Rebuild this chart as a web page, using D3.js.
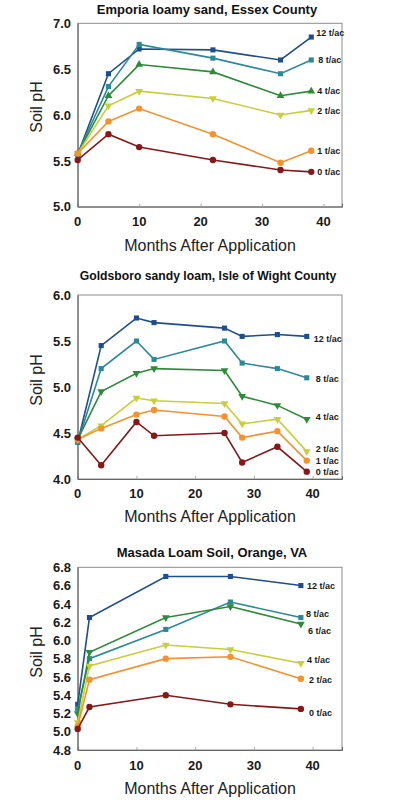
<!DOCTYPE html>
<html>
<head>
<meta charset="utf-8">
<script src="https://cdn.jsdelivr.net/npm/d3@7"></script>
<style>
  html, body { margin: 0; padding: 0; background: #fff; }
  svg { display: block; font-family: "Liberation Sans", Arial, sans-serif; }
</style>
</head>
<body>
<svg id="chart" width="397" height="800"></svg>
<script>
// ---------- DATA ----------
const seriesColors = ["#1f4e8c", "#2b8a99", "#2e8b3a", "#c8cf3a", "#f4922f", "#861818"];

// Panel 1: Emporia loamy sand, Essex County
const emporiaTitle = "Emporia loamy sand, Essex County";
const emporiaMonths = [0, 5, 10, 22, 33, 38];
const emporiaRates = ["12 t/ac", "8 t/ac", "4 t/ac", "2 t/ac", "1 t/ac", "0 t/ac"];
const emporiaMarkers = ["square", "square", "triUp", "triDown", "circle", "circle"];
const emporiaPH = [
  [5.57, 6.45, 6.72, 6.71, 6.60, 6.85],
  [5.58, 6.31, 6.77, 6.62, 6.45, 6.60],
  [5.58, 6.21, 6.55, 6.47, 6.21, 6.26],
  [5.58, 6.10, 6.26, 6.18, 6.00, 6.05],
  [5.58, 5.93, 6.07, 5.79, 5.48, 5.61],
  [5.51, 5.79, 5.65, 5.51, 5.40, 5.38]
];
const emporiaYTicks = [5.0, 5.5, 6.0, 6.5, 7.0];
const emporiaXTicks = [0, 10, 20, 30, 40];

// Panel 2: Goldsboro sandy loam, Isle of Wight County
const goldsboroTitle = "Goldsboro sandy loam, Isle of Wight County";
const goldsboroMonths = [0, 4, 10, 13, 25, 28, 34, 39];
const goldsboroRates = ["12 t/ac", "8 t/ac", "4 t/ac", "2 t/ac", "1 t/ac", "0 t/ac"];
const goldsboroMarkers = ["square", "square", "triDown", "triDown", "circle", "circle"];
const goldsboroPH = [
  [4.40, 5.45, 5.75, 5.70, 5.64, 5.55, 5.57, 5.55],
  [4.40, 5.20, 5.50, 5.30, 5.50, 5.26, 5.20, 5.10],
  [4.43, 4.95, 5.15, 5.20, 5.18, 4.90, 4.80, 4.65],
  [4.43, 4.58, 4.88, 4.85, 4.82, 4.60, 4.65, 4.30],
  [4.43, 4.55, 4.70, 4.75, 4.68, 4.45, 4.52, 4.20],
  [4.45, 4.15, 4.62, 4.47, 4.50, 4.18, 4.35, 4.08]
];
const goldsboroYTicks = [4.0, 4.5, 5.0, 5.5, 6.0];
const goldsboroXTicks = [0, 10, 20, 30, 40];

// Panel 3: Masada Loam Soil, Orange, VA
const masadaTitle = "Masada Loam Soil, Orange, VA";
const masadaMonths = [0, 2, 15, 26, 38];
const masadaRates = ["12 t/ac", "8 t/ac", "6 t/ac", "4 t/ac", "2 t/ac", "0 t/ac"];
const masadaMarkers = ["square", "square", "triDown", "triDown", "circle", "circle"];
const masadaPH = [
  [5.30, 6.25, 6.70, 6.70, 6.60],
  [5.25, 5.80, 6.12, 6.42, 6.25],
  [5.20, 5.87, 6.25, 6.37, 6.18],
  [5.10, 5.72, 5.95, 5.90, 5.75],
  [5.06, 5.57, 5.80, 5.82, 5.58],
  [5.03, 5.27, 5.40, 5.30, 5.25]
];
const masadaYTicks = [4.8, 5.0, 5.2, 5.4, 5.6, 5.8, 6.0, 6.2, 6.4, 6.6, 6.8];
const masadaXTicks = [0, 10, 20, 30, 40];

const xLabelText = "Months After Application";
const yLabelText = "Soil pH";

// ---------- LAYOUT ----------
const panels = [
  { title: emporiaTitle, months: emporiaMonths, rates: emporiaRates, markers: emporiaMarkers, values: emporiaPH,
    yTicks: emporiaYTicks, xTicks: emporiaXTicks, xMax: 43, yDomain: [5.0, 7.0],
    top: 23.3, bottom: 206.7, titleY: 14, xTickY: 226, xLabelY: 251, yLabelY: 107, titleX: 207, titleSize: 13,
    labelDx: [5, 7, 6, 6, 6, 6], labelDy: [-4, 0, 0, 0, 0, 0] },
  { title: goldsboroTitle, months: goldsboroMonths, rates: goldsboroRates, markers: goldsboroMarkers, values: goldsboroPH,
    yTicks: goldsboroYTicks, xTicks: goldsboroXTicks, xMax: 45, yDomain: [4.0, 6.0],
    top: 295, bottom: 479, titleY: 279.5, xTickY: 498, xLabelY: 522, yLabelY: 380, titleX: 208, titleSize: 12.2,
    labelDx: [7, 9, 9, 9, 9, 9], labelDy: [2, 1.5, -2, -2.5, 0, 0] },
  { title: masadaTitle, months: masadaMonths, rates: masadaRates, markers: masadaMarkers, values: masadaPH,
    yTicks: masadaYTicks, xTicks: masadaXTicks, xMax: 45, yDomain: [4.8, 6.8],
    top: 567.3, bottom: 750, titleY: 557, xTickY: 770, xLabelY: 794, yLabelY: 652, titleX: 212, titleSize: 13,
    labelDx: [6, 5, 7, 6, 8, 8], labelDy: [0, -4, 7, -3, 1.5, 4] }
];

const plotLeft = 77.7;
const plotRight = 342;

const svg = d3.select("#chart");

function markerPath(type) {
  const sym = d3.symbol();
  if (type === "square") return sym.type(d3.symbolSquare).size(26)();
  if (type === "circle") return sym.type(d3.symbolCircle).size(32)();
  return sym.type(d3.symbolTriangle).size(26)();
}

panels.forEach(p => {
  const g = svg.append("g");
  const x = d3.scaleLinear().domain([0, p.xMax]).range([plotLeft, plotRight]);
  const y = d3.scaleLinear().domain(p.yDomain).range([p.bottom, p.top]);

  // plot frame
  g.append("rect")
    .attr("x", plotLeft).attr("y", p.top)
    .attr("width", plotRight - plotLeft).attr("height", p.bottom - p.top)
    .attr("fill", "none").attr("stroke", "#8c8c8c").attr("stroke-width", 1);

  // x axis (ticks inside, small)
  const xAxis = d3.axisBottom(x).tickValues(p.xTicks).tickSize(-3).tickFormat("");
  const xa = g.append("g").attr("transform", `translate(0,${p.bottom})`).call(xAxis);
  xa.select(".domain").attr("stroke", "#666");
  xa.selectAll(".tick line").attr("stroke", "#aaa");

  const ya = g.append("g").attr("transform", `translate(${plotLeft},0)`)
    .call(d3.axisLeft(y).tickValues(p.yTicks).tickSize(0).tickFormat(""));
  ya.select(".domain").attr("stroke", "#666");

  // tick labels
  g.selectAll(".ytl").data(p.yTicks).enter().append("text")
    .attr("x", 71).attr("y", d => y(d)).attr("dy", "0.36em")
    .attr("text-anchor", "end").attr("font-size", 13).attr("font-weight", "bold").attr("fill", "#1a1a1a")
    .text(d => d3.format(".1f")(d));
  g.selectAll(".xtl").data(p.xTicks).enter().append("text")
    .attr("x", d => x(d)).attr("y", p.xTickY)
    .attr("text-anchor", "middle").attr("font-size", 13).attr("font-weight", "bold").attr("fill", "#1a1a1a")
    .text(d => d);

  // title
  g.append("text").attr("x", p.titleX).attr("y", p.titleY)
    .attr("text-anchor", "middle").attr("font-size", p.titleSize).attr("font-weight", "bold").attr("fill", "#111")
    .text(p.title);

  // axis titles
  g.append("text").attr("x", 210).attr("y", p.xLabelY)
    .attr("text-anchor", "middle").attr("font-size", 16).attr("fill", "#222")
    .text(xLabelText);
  g.append("text").attr("transform", `translate(41.5,${p.yLabelY}) rotate(-90)`)
    .attr("text-anchor", "middle").attr("font-size", 16).attr("fill", "#222")
    .text(yLabelText);

  // series
  const line = d3.line().x((d, i) => x(p.months[i])).y(d => y(d));
  p.values.forEach((vals, si) => {
    const color = seriesColors[si];
    const sg = g.append("g");
    sg.append("path").datum(vals).attr("d", line)
      .attr("fill", "none").attr("stroke", color).attr("stroke-width", 1.6);
    sg.selectAll("path.m").data(vals).enter().append("path")
      .attr("class", "m")
      .attr("d", markerPath(p.markers[si]))
      .attr("fill", color)
      .attr("transform", (d, i) => `translate(${x(p.months[i])},${y(d)})` + (p.markers[si] === "triDown" ? " rotate(180)" : ""));
    const last = vals.length - 1;
    sg.append("text")
      .attr("x", x(p.months[last]) + p.labelDx[si])
      .attr("y", y(vals[last]) + p.labelDy[si])
      .attr("dy", "0.35em")
      .attr("font-size", 9).attr("font-weight", "bold").attr("fill", "#1a1a1a")
      .text(p.rates[si]);
  });
});
</script>
</body>
</html>
